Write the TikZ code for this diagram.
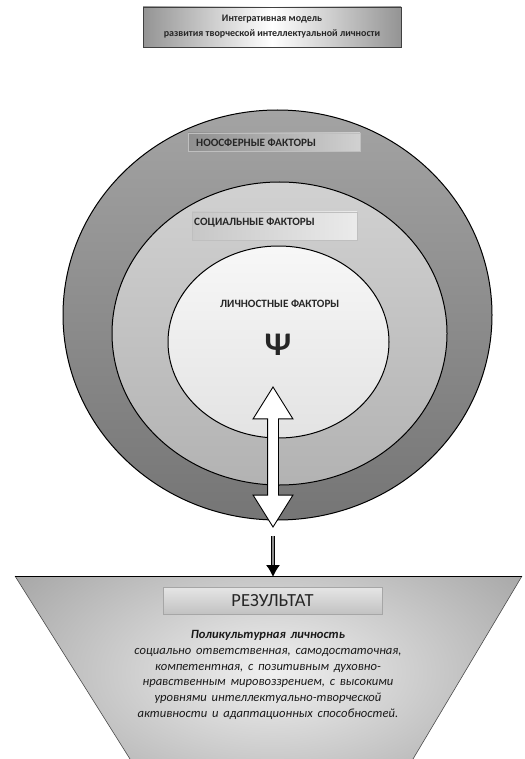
\documentclass[tikz,border=0pt]{standalone}
\usepackage{fontspec}
\setmainfont{Carlito}
\newfontfamily\bodyfont[WordSpace=1.7]{Carlito}
\usetikzlibrary{shapes.arrows,arrows.meta}

\tikzset{
  titlebox/.style={draw=black!75, line width=0.8pt, left color=black!42, right color=black!42, middle color=white, align=center, inner sep=0pt, font=\bfseries\fontsize{10}{15}\selectfont, text=black!85},
  ring/.style={draw=black, line width=1pt},
  factorbox/.style={draw=black!25, line width=0.5pt},
  factor/.style={anchor=west, inner sep=0pt, font=\bfseries\fontsize{11.2}{12}\selectfont, text=black!85},
  link/.style={shape=double arrow, draw=black, fill=white, line width=0.9pt, inner sep=5pt, double arrow head extend=14.5pt, double arrow tip angle=64},
  feed/.style={line width=1.1pt, double=black!45, double distance=1.4pt, -{Latex[length=12pt,width=14pt]}},
  resbox/.style={draw=black!35, line width=0.6pt, top color=black!10, bottom color=black!24, inner sep=0pt, font=\fontsize{18.5}{20}\selectfont, text=black!85},
  desc/.style={align=center, inner sep=0pt, font=\bodyfont\itshape\fontsize{12.6}{15.8}\selectfont, text=black!90}
}

\begin{document}
\begin{tikzpicture}[x=1pt,y=-1pt]
\useasboundingbox (0,0) rectangle (524,759);

% title
\node[titlebox, minimum width=258pt, minimum height=40pt] (title) at (272,27)
  {Интегративная модель\\развития  творческой  интеллектуальной  личности};

% factor rings
\draw[ring, top color=black!36, bottom color=black!54] (277.5,315) ellipse [x radius=214.5, y radius=205];
\draw[ring, top color=black!18, bottom color=black!30] (279.5,333.5) ellipse [x radius=167.5, y radius=151.5];
\draw[ring, top color=black!3, bottom color=black!11] (278.5,342) ellipse [x radius=110.5, y radius=96];

\path[factorbox, left color=black!44, right color=black!18] (188,133) rectangle (360,151);
\node[factor] (noo) at (196,142.5) {НООСФЕРНЫЕ ФАКТОРЫ};
\path[factorbox, left color=black!22, right color=black!8] (192,212) rectangle (357,240);
\node[factor] (soc) at (194,223) {СОЦИАЛЬНЫЕ ФАКТОРЫ};
\node[factor] (pers) at (220,304) {ЛИЧНОСТНЫЕ ФАКТОРЫ};
\node[inner sep=0pt, font=\bfseries\fontsize{33}{33}\selectfont, text=black!85] (psi) at (278,345) {Ψ};

% link between the person and the result
\node[link, rotate=90, minimum height=140pt] (link) at (273,457) {};
\coordinate (top) at (273,577);
\draw[feed] ([yshift=-8pt]link.west) -- (top);

% result
\begin{scope}
  \clip (15,576) -- (522,576) -- (413,759) -- (130,759) -- cycle;
  \shade[inner color=black!6, outer color=black!50] (272,672) ellipse [x radius=480, y radius=260];
\end{scope}
\draw[black!70, line width=0.6pt] (15,576) -- (130,759);
\draw[black!70, line width=0.6pt] (522,576) -- (413,759);
\draw[line width=1pt] (15,576) -- (522,576);

\node[resbox, minimum width=219pt, minimum height=27pt] (res) at (272.5,600.5) {РЕЗУЛЬТАТ};
\node[desc] (text) at (268,675)
  {\textbf{Поликультурная  личность}\\
   социально ответственная, самодостаточная,\\
   компетентная, с позитивным духовно-\\
   нравственным мировоззрением, с высокими\\
   уровнями интеллектуально-творческой\\
   активности и адаптационных способностей.};

\end{tikzpicture}
\end{document}
